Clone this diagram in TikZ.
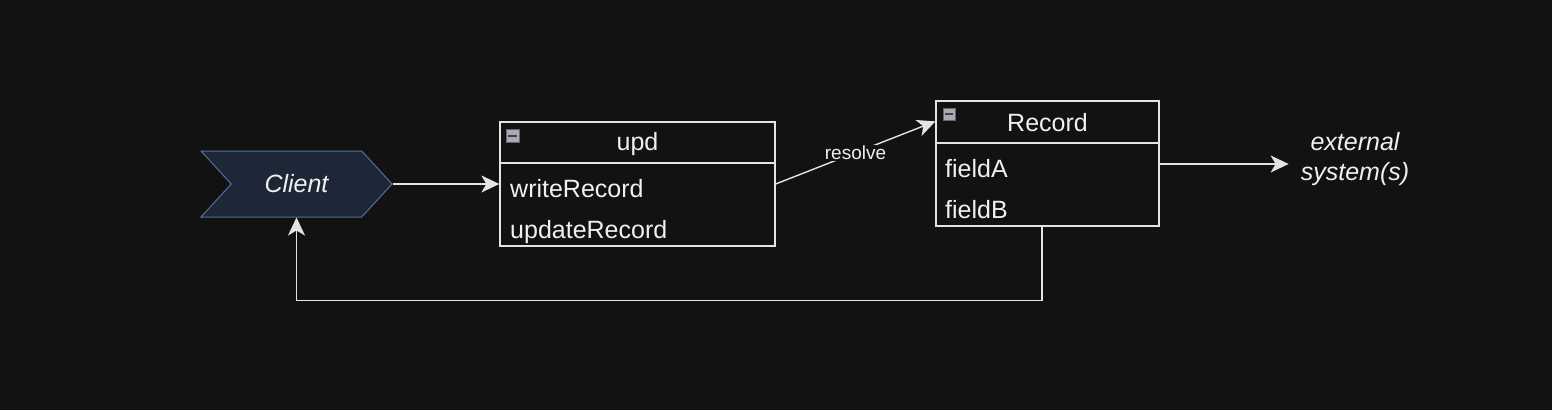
\documentclass[tikz,border=0pt]{standalone}
\usepackage{fontspec}
\setmainfont{Liberation Sans}
\usetikzlibrary{positioning}
\usetikzlibrary{shapes.symbols}
\usetikzlibrary{arrows.meta}
\definecolor{bgcol}{HTML}{121212}
\definecolor{linecol}{HTML}{E4E4E4}
\definecolor{txtcol}{HTML}{F0F0F0}
\definecolor{clientfill}{HTML}{1E2738}
\definecolor{clientline}{HTML}{56709A}
\definecolor{iconcol}{HTML}{A7ABB4}

\begin{document}
\begin{tikzpicture}[x=1pt, y=-1pt,
		umlbox/.style={draw=linecol, line width=1.3pt, inner sep=0pt},
		umltext/.style={text=txtcol, font=\fontsize{25}{30}\selectfont, inner sep=0pt, anchor=base west},
		minusicon/.style={draw=black!60, fill=iconcol, minimum size=12.5pt, inner sep=0pt,
			path picture={\fill[black!75] ([xshift=2.2pt,yshift=1pt]path picture bounding box.west) rectangle ([xshift=-2.2pt,yshift=-1pt]path picture bounding box.east);}
		},
		edge/.style={draw=linecol, line width=1.4pt, -{Stealth[length=18pt, width=17pt, inset=5pt]}}
	]
		
		\fill[bgcol] (0,0) rectangle (1552,410);
		\useasboundingbox (0,0) rectangle (1552,410);
		
		\node[signal, signal to=east, signal from=west, signal pointer angle=95,
			minimum width=191pt, minimum height=66pt, inner sep=0pt,
			fill=clientfill, draw=clientline, line width=1pt,
			text=txtcol, font=\fontsize{25}{30}\selectfont\itshape] (client) at (296.5,184) {Client};
		
		\node[umlbox, minimum width=275pt, minimum height=124pt] (upd) at (637.5,184) {};
		\draw[umlbox] (upd.west |- 0,163) -- (upd.east |- 0,163);
		\node[minusicon] (updicon) at (512.5,135.5) {};
		\node[umltext, anchor=base] (updtitle) at (637.5,150) {upd};
		\node[umltext] (write) at (510,197) {writeRecord};
		\node[umltext] (update) at (510,238) {updateRecord};
		
		\node[umlbox, minimum width=223pt, minimum height=125pt] (record) at (1047.5,163.5) {};
		\draw[umlbox] (record.west |- 0,143) -- (record.east |- 0,143);
		\node[minusicon] (recicon) at (949,114) {};
		\node[umltext, anchor=base] (rectitle) at (1047.5,131) {Record};
		\node[umltext] (fielda) at (945,177) {fieldA};
		\node[umltext] (fieldb) at (945,218) {fieldB};
		
		\node[text=txtcol, font=\fontsize{25}{30}\selectfont\itshape, align=center,
			inner xsep=12pt, inner ysep=0pt] (ext) at (1355,159) {external\\system(s)};
		
		\coordinate (recout) at ([yshift=-0.5pt]record.east);
		\draw[edge] (client.east) -- (upd.west);
		\draw[edge] (upd.east) -- node[fill=bgcol, text=txtcol, inner sep=1pt,
			font=\fontsize{19}{23}\selectfont] (resolve) {resolve} ([yshift=-21pt]record.north west);
		\draw[edge] (recout) -- (ext.west |- recout);
		\draw[edge] ([xshift=-5.5pt]record.south) -- ++(0,74) -| (client.south);
	\end{tikzpicture}
\end{document}
